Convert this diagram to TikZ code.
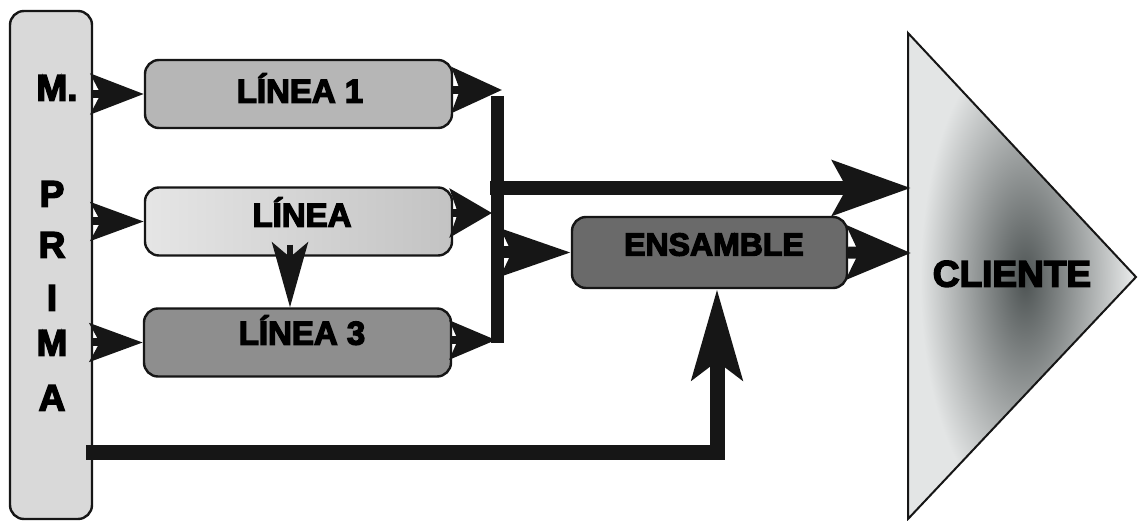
\documentclass[tikz,border=0pt]{standalone}
\usepackage{fontspec}
\setmainfont{Liberation Sans}
\newfontfamily\heavyfont{Liberation Sans Bold}[FakeBold=4]
\usetikzlibrary{arrows.meta,calc}

\definecolor{ink}{HTML}{161616}
\definecolor{barfill}{HTML}{D9D9D9}
\definecolor{lineAfill}{HTML}{B6B6B6}
\definecolor{lineBfill}{HTML}{D4D4D4}
\definecolor{lineCfill}{HTML}{8E8E8E}
\definecolor{ensfill}{HTML}{6A6A6A}
\definecolor{clifill}{HTML}{E3E5E5}
\definecolor{clicore}{HTML}{4E5454}

\begin{document}
\begin{tikzpicture}[x=1pt,y=-1pt,
  box/.style={draw=ink, line width=2.4pt, rounded corners=14pt,
    minimum width=307pt, minimum height=68pt, inner sep=0pt},
  lbl/.style={font=\heavyfont\fontsize{#1}{#1}\selectfont,
    text height=0.72em, text depth=0pt, inner sep=0pt, text=black},
  flow/.style={draw=ink, line width=#1},
  flow/.default=13pt
]
\useasboundingbox (0,0) rectangle (1138,521);

% raw-material column
\node[draw=ink, line width=2.4pt, rounded corners=14pt, fill=barfill,
  minimum width=82pt, minimum height=508pt, inner sep=0pt] (bar) at (51,265) {};
\node[lbl=37] (mp0) at (57,97) {M.};
\node[lbl=37] (mp1) at (52,203) {P};
\node[lbl=37] (mp2) at (52,254) {R};
\node[lbl=37] (mp3) at (52,307) {I};
\node[lbl=37] (mp4) at (52,352) {M};
\node[lbl=37] (mp5) at (52,407) {A};

% production lines
\node[box, fill=lineAfill] (l1) at (298.5,94) {};
\node[box, left color=lineBfill!60!white, right color=lineBfill!92!black] (l2) at (298.5,221.5) {};
\node[box, fill=lineCfill] (l3) at (297.5,342.5) {};
\node[lbl=33] (t1) at (300,99) {LÍNEA 1};
\node[lbl=33] (t2) at (302,223) {LÍNEA};
\node[lbl=33] (t3) at (302,341) {LÍNEA 3};

% assembly
\node[box, fill=ensfill, minimum width=275pt, minimum height=71pt] (ens) at (709.5,252.5) {};
\node[lbl=32] (t4) at (714,252) {ENSAMBLE};

% customer
\coordinate (ct) at (908,33);
\coordinate (cb) at (908,519);
\coordinate (ca) at (1136,277);
\begin{scope}
  \clip (ct) -- (ca) -- (cb) -- cycle;
  \fill[clifill] (ct) -- (ca) -- (cb) -- cycle;
  \shade[inner color=clicore, outer color=clifill] (1025,280) ellipse (105 and 240);
\end{scope}
\draw[ink, line width=2pt, line join=miter] (ct) -- (ca) -- (cb) -- cycle;
\node[lbl=37] (cli) at (1012,283) {CLIENTE};

% junction points
\coordinate (j1) at (502,90);
\coordinate (j2) at (492,213);
\coordinate (j3) at (496,340);
\coordinate (ctop) at (497,96);
\coordinate (cbot) at (497,343);
\coordinate (cm) at (490,188);
\coordinate (ce) at (497,252.5);
\coordinate (cin1) at (911,188);
\coordinate (cin2) at (911,253);
\coordinate (b0) at (86,452);

% raw material into each line
\draw[flow=8pt, -{Stealth[length=53pt,width=40pt,inset=10pt]}] (bar.east |- l1) -- (l1.west);
\draw[flow=8pt, -{Stealth[length=53pt,width=38pt,inset=10pt]}] (bar.east |- l2) -- (l2.west);
\draw[flow=8pt, -{Stealth[length=53pt,width=38pt,inset=10pt]}] (bar.east |- l3) -- (l3.west);

% line outputs to the collector
\draw[flow=8pt, -{Stealth[length=50pt,width=45pt,inset=8pt]}] (l1.east |- j1) -- (j1);
\draw[flow=8pt, -{Stealth[length=42pt,width=48pt,inset=8pt]}] (l2.east |- j2) -- (j2);
\draw[flow=8pt, -{Stealth[length=46pt,width=38pt,inset=8pt]}] (l3.east |- j3) -- (j3);
\draw[flow] (ctop) -- (cbot);

% line 2 feeds line 3
\draw[flow=6pt, -{Stealth[length=65pt,width=36pt,inset=15pt]}]
  ([xshift=-8.5pt,yshift=12pt]l2.south) -- ([xshift=-7.5pt]l3.north);

% collector to customer and to assembly
\draw[flow=14pt, -{Stealth[length=78pt,width=54pt,inset=14pt]}] (cm) -- (cin1);
\draw[flow=12pt, -{Stealth[length=69pt,width=46pt,inset=10pt]}] (ce) -- (ens.west);
\draw[flow=12pt, -{Stealth[length=64pt,width=53pt,inset=12pt]}] (ens.east) -- (cin2);

% raw material directly to assembly
\draw[flow=15pt, line join=miter, -{Stealth[length=90pt,width=50pt,inset=18pt]}]
  (b0) -| ([xshift=7.5pt]ens.south);
\end{tikzpicture}
\end{document}
